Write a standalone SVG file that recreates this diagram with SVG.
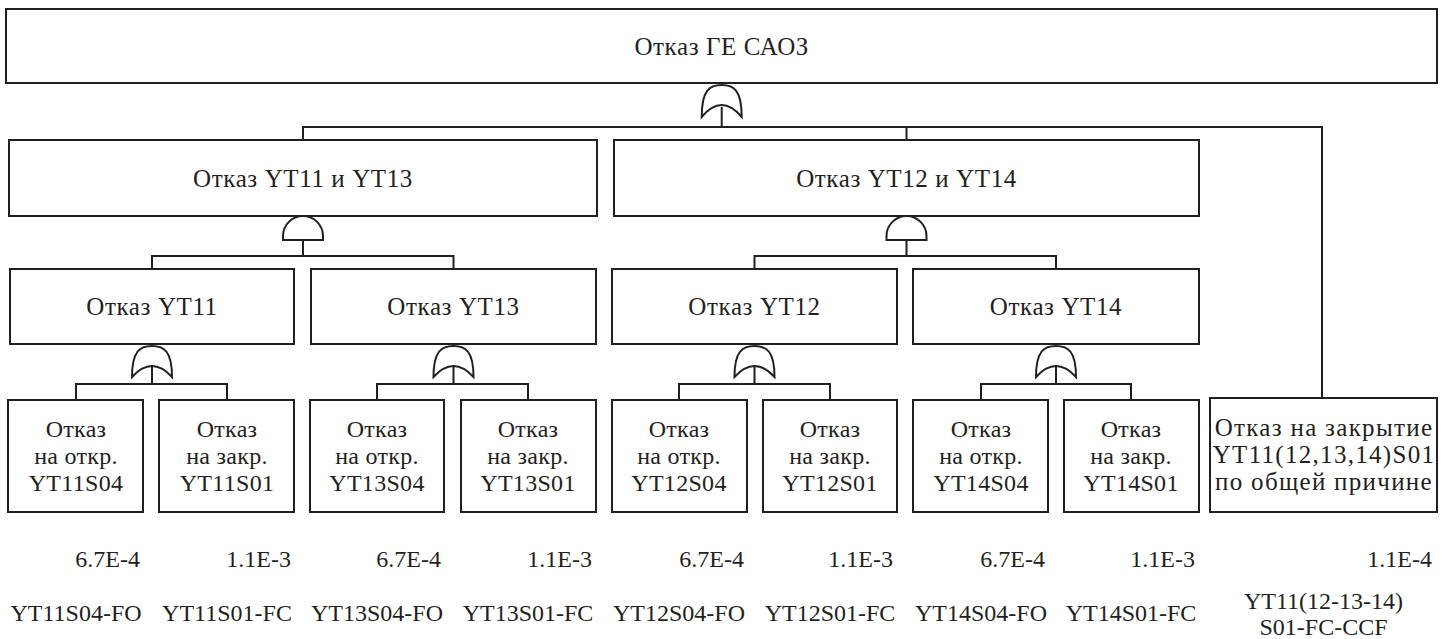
<svg xmlns="http://www.w3.org/2000/svg" width="1449" height="639" viewBox="0 0 1449 639">
<style>
.box{fill:#fff;stroke:#231f20;stroke-width:2}
.gate{fill:#fff;stroke:#231f20;stroke-width:2;stroke-linejoin:miter}
.ln{fill:none;stroke:#231f20;stroke-width:2}
text{font-family:"Liberation Serif","DejaVu Serif",serif;font-size:24px;fill:#231f20}
.big{font-size:25px;letter-spacing:0.6px}
.lf{letter-spacing:0.3px}
.wide{font-size:25px;letter-spacing:1.3px}
.c{text-anchor:middle}
.r{text-anchor:end}
</style>
<rect width="1449" height="639" fill="#fff"/>
<g id="connectors">
<path class="ln" d="M721.7,107V127M303,140V127H1322V398M906.5,127V140"/>
<path class="ln" d="M303,240V256M152,269V256H453.5V269"/>
<path class="ln" d="M906.5,240V256M754.5,269V256H1056V269"/>
<path class="ln" d="M152,367V384M76,400V384H227V400"/>
<path class="ln" d="M453.5,367V384M377,400V384H528V400"/>
<path class="ln" d="M754.5,367V384M679,400V384H830V400"/>
<path class="ln" d="M1056,367V384M981,400V384H1131V400"/>
</g>
<g id="top">
<rect class="box" x="6" y="9" width="1431" height="74"/>
<text class="c big" x="721.7" y="55">Отказ ГЕ САОЗ</text>
</g>
<g id="gate-top"><path class="gate" d="M701.7,117C701.7,90 709.7,85 721.7,85C733.7,85 741.7,90 741.7,117Q721.7,93 701.7,117Z"/></g>
<g id="n-yt11-yt13">
<rect class="box" x="9" y="140" width="588" height="76"/>
<text class="c big" x="303" y="187">Отказ YT11 и YT13</text>
</g>
<g id="n-yt12-yt14">
<rect class="box" x="614" y="140" width="585" height="76"/>
<text class="c big" x="906.5" y="187">Отказ YT12 и YT14</text>
</g>
<g id="gate-a"><path class="gate" d="M283,240V236A20,20 0 0 1 323,236V240Z"/></g>
<g id="gate-b"><path class="gate" d="M886.5,240V236A20,20 0 0 1 926.5,236V240Z"/></g>
<g id="n-yt11">
<rect class="box" x="10" y="269" width="284" height="75"/>
<text class="c big" x="152" y="315">Отказ YT11</text>
</g>
<g id="n-yt13">
<rect class="box" x="311" y="269" width="285" height="75"/>
<text class="c big" x="453.5" y="315">Отказ YT13</text>
</g>
<g id="n-yt12">
<rect class="box" x="612" y="269" width="285" height="75"/>
<text class="c big" x="754.5" y="315">Отказ YT12</text>
</g>
<g id="n-yt14">
<rect class="box" x="913" y="269" width="286" height="75"/>
<text class="c big" x="1056" y="315">Отказ YT14</text>
</g>
<g id="gate-yt11"><path class="gate" d="M132,377C132,351 140,346 152,346C164,346 172,351 172,377Q152,355 132,377Z"/></g>
<g id="gate-yt13"><path class="gate" d="M433.5,377C433.5,351 441.5,346 453.5,346C465.5,346 473.5,351 473.5,377Q453.5,355 433.5,377Z"/></g>
<g id="gate-yt12"><path class="gate" d="M734.5,377C734.5,351 742.5,346 754.5,346C766.5,346 774.5,351 774.5,377Q754.5,355 734.5,377Z"/></g>
<g id="gate-yt14"><path class="gate" d="M1036,377C1036,351 1044,346 1056,346C1068,346 1076,351 1076,377Q1056,355 1036,377Z"/></g>
<g id="leaf-yt11s04">
<rect class="box" x="8" y="400" width="135" height="112"/>
<text class="c lf" x="76" y="437">Отказ</text><text class="c lf" x="76" y="464">на откр.</text><text class="c lf" x="76" y="491">YT11S04</text>
<text class="r" x="140" y="567">6.7E-4</text><text class="c" x="76" y="621">YT11S04-FO</text>
</g>
<g id="leaf-yt11s01">
<rect class="box" x="159" y="400" width="135" height="112"/>
<text class="c lf" x="227" y="437">Отказ</text><text class="c lf" x="227" y="464">на закр.</text><text class="c lf" x="227" y="491">YT11S01</text>
<text class="r" x="291" y="567">1.1E-3</text><text class="c" x="227" y="621">YT11S01-FC</text>
</g>
<g id="leaf-yt13s04">
<rect class="box" x="310" y="400" width="134" height="112"/>
<text class="c lf" x="377" y="437">Отказ</text><text class="c lf" x="377" y="464">на откр.</text><text class="c lf" x="377" y="491">YT13S04</text>
<text class="r" x="441" y="567">6.7E-4</text><text class="c" x="377" y="621">YT13S04-FO</text>
</g>
<g id="leaf-yt13s01">
<rect class="box" x="461" y="400" width="135" height="112"/>
<text class="c lf" x="528" y="437">Отказ</text><text class="c lf" x="528" y="464">на закр.</text><text class="c lf" x="528" y="491">YT13S01</text>
<text class="r" x="592" y="567">1.1E-3</text><text class="c" x="528" y="621">YT13S01-FC</text>
</g>
<g id="leaf-yt12s04">
<rect class="box" x="612" y="400" width="135" height="112"/>
<text class="c lf" x="679" y="437">Отказ</text><text class="c lf" x="679" y="464">на откр.</text><text class="c lf" x="679" y="491">YT12S04</text>
<text class="r" x="744" y="567">6.7E-4</text><text class="c" x="679" y="621">YT12S04-FO</text>
</g>
<g id="leaf-yt12s01">
<rect class="box" x="763" y="400" width="134" height="112"/>
<text class="c lf" x="830" y="437">Отказ</text><text class="c lf" x="830" y="464">на закр.</text><text class="c lf" x="830" y="491">YT12S01</text>
<text class="r" x="893" y="567">1.1E-3</text><text class="c" x="830" y="621">YT12S01-FC</text>
</g>
<g id="leaf-yt14s04">
<rect class="box" x="913" y="400" width="135" height="112"/>
<text class="c lf" x="981" y="437">Отказ</text><text class="c lf" x="981" y="464">на откр.</text><text class="c lf" x="981" y="491">YT14S04</text>
<text class="r" x="1045" y="567">6.7E-4</text><text class="c" x="981" y="621">YT14S04-FO</text>
</g>
<g id="leaf-yt14s01">
<rect class="box" x="1064" y="400" width="135" height="112"/>
<text class="c lf" x="1131" y="437">Отказ</text><text class="c lf" x="1131" y="464">на закр.</text><text class="c lf" x="1131" y="491">YT14S01</text>
<text class="r" x="1195" y="567">1.1E-3</text><text class="c" x="1131" y="621">YT14S01-FC</text>
</g>
<g id="leaf-ccf">
<rect class="box" x="1210" y="398" width="227" height="114"/>
<text class="c wide" x="1324" y="436">Отказ на закрытие</text><text class="c wide" x="1324" y="463">YT11(12,13,14)S01</text><text class="c wide" x="1324" y="490">по общей причине</text>
<text class="r" x="1432" y="567">1.1E-4</text><text class="c" x="1323.5" y="609">YT11(12-13-14)</text><text class="c" x="1323.5" y="635">S01-FC-CCF</text>
</g>
</svg>
